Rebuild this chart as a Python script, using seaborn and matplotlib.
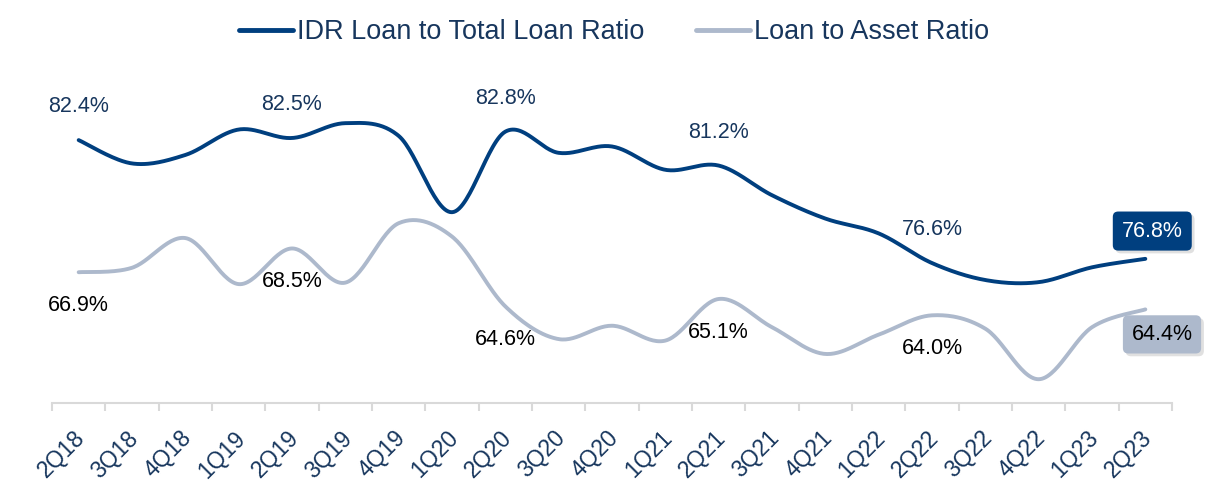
import numpy as np
import pandas as pd
import matplotlib
matplotlib.use("Agg")
import matplotlib.pyplot as plt
import matplotlib.patheffects as pe
from matplotlib.transforms import ScaledTranslation
import seaborn as sns

# Quarterly ratios (%)
quarters = ["2Q18", "3Q18", "4Q18", "1Q19", "2Q19", "3Q19", "4Q19", "1Q20", "2Q20",
            "3Q20", "4Q20", "1Q21", "2Q21", "3Q21", "4Q21", "1Q22", "2Q22", "3Q22",
            "4Q22", "1Q23", "2Q23"]
idr_loan_ratio = [82.4, 81.3, 81.7, 82.9, 82.5, 83.2, 82.6, 79.0, 82.8, 81.8, 82.1,
                  81.0, 81.2, 79.8, 78.7, 78.0, 76.6, 75.8, 75.7, 76.4, 76.8]
loan_asset_ratio = [66.9, 67.2, 69.2, 66.1, 68.5, 66.2, 70.2, 69.3, 64.6, 62.4, 63.3,
                    62.3, 65.1, 63.2, 61.4, 62.7, 64.0, 63.1, 59.7, 63.2, 64.4]
labelled = ["2Q18", "2Q19", "2Q20", "2Q21", "2Q22"]

NAVY = "#003f7f"
NAVY_TXT = "#17365d"
STEEL = "#adb9cc"
AXIS_GREY = "#d9d9d9"

sns.set_theme(style="white")
plt.rcParams["font.family"] = ["Liberation Sans", "DejaVu Sans"]


def smooth(y, n=30):
    """Cubic Bezier smoothing through every point (Catmull-Rom tangents)."""
    y = np.asarray(y, float)
    x = np.arange(len(y), dtype=float)
    px = np.concatenate([[x[0]], x, [x[-1]]])
    py = np.concatenate([[y[0]], y, [y[-1]]])
    xs, ys = [], []
    t = np.linspace(0, 1, n, endpoint=False)
    for i in range(len(y) - 1):
        p0 = np.array([x[i], y[i]])
        p3 = np.array([x[i + 1], y[i + 1]])
        c1 = p0 + (np.array([px[i + 2], py[i + 2]]) - np.array([px[i], py[i]])) / 6
        c2 = p3 - (np.array([px[i + 3], py[i + 3]]) - np.array([px[i + 1], py[i + 1]])) / 6
        b = ((1 - t) ** 3)[:, None] * p0 + (3 * (1 - t) ** 2 * t)[:, None] * c1 \
            + (3 * (1 - t) * t ** 2)[:, None] * c2 + (t ** 3)[:, None] * p3
        xs.append(b[:, 0])
        ys.append(b[:, 1])
    xs.append([x[-1]])
    ys.append([y[-1]])
    return np.concatenate(xs), np.concatenate(ys)


fig = plt.figure(figsize=(12.08, 4.82), dpi=100)
ax = fig.add_axes([52 / 1208, 1 - 403 / 482, 1120 / 1208, 318 / 482])
ax2 = ax.twinx()

sx, sy = smooth(idr_loan_ratio)
df_idr = pd.DataFrame({"q": sx, "v": sy})
sx2, sy2 = smooth(loan_asset_ratio)
df_la = pd.DataFrame({"q": sx2, "v": sy2})

sns.lineplot(data=df_idr, x="q", y="v", ax=ax, color=NAVY, lw=2.8,
             sort=False, estimator=None, label="IDR Loan to Total Loan Ratio", legend=False)
sns.lineplot(data=df_la, x="q", y="v", ax=ax2, color=STEEL, lw=2.8,
             sort=False, estimator=None, label="Loan to Asset Ratio", legend=False)

ax.set_xlim(-0.5, len(quarters) - 0.5)
ax.set_ylim(70, 85)
ax2.set_ylim(58.1, 79.5)

# Category axis: boundary tick marks, labels at centres
ax.set_xticks(np.arange(len(quarters) + 1) - 0.5)
ax.set_xticklabels([])
ax.set_xticks(np.arange(len(quarters)), minor=True)
ax.set_xticklabels(quarters, minor=True, rotation=45, ha="right", va="top",
                   rotation_mode="anchor", fontsize=16.5, color=NAVY_TXT)
ax.tick_params(axis="x", which="major", direction="out", length=6, width=1.5,
               color=AXIS_GREY, bottom=True)
ax.tick_params(axis="x", which="minor", length=0, pad=17)
shift = ScaledTranslation(-5 / 100, 0, fig.dpi_scale_trans)
for lab in ax.get_xticklabels(minor=True):
    lab.set_transform(lab.get_transform() + shift)
ax.set_yticks([])
ax2.set_yticks([])
ax.set_xlabel("")
ax.set_ylabel("")
ax2.set_ylabel("")
for a in (ax, ax2):
    for s in ("top", "right", "left", "bottom"):
        a.spines[s].set_visible(False)
ax.spines["bottom"].set_visible(True)
ax.spines["bottom"].set_color(AXIS_GREY)
ax.spines["bottom"].set_linewidth(1.5)

# Value labels
for q in labelled:
    i = quarters.index(q)
    ax.annotate(f"{idr_loan_ratio[i]:.1f}%", (i, idr_loan_ratio[i]), xytext=(0, 24),
                textcoords="offset points", ha="center", va="center",
                fontsize=15.5, color=NAVY_TXT)
    ax2.annotate(f"{loan_asset_ratio[i]:.1f}%", (i, loan_asset_ratio[i]), xytext=(0, -24),
                 textcoords="offset points", ha="center", va="center",
                 fontsize=15.5, color="black")

# Highlighted latest values
last = len(quarters) - 1
shadow = [pe.withSimplePatchShadow(offset=(2, -2), shadow_rgbFace="#9a9a9a", alpha=0.3)]
t1 = ax.annotate(f"{idr_loan_ratio[last]:.1f}%", (last, idr_loan_ratio[last]),
                 xytext=(5, 20), textcoords="offset points", ha="center", va="center",
                 fontsize=15.5, color="white",
                 bbox=dict(boxstyle="round,pad=0.42,rounding_size=0.25", fc=NAVY, ec="none"))
t1.get_bbox_patch().set_path_effects(shadow)
t2 = ax2.annotate(f"{loan_asset_ratio[last]:.1f}%", (last, loan_asset_ratio[last]),
                  xytext=(12, -18), textcoords="offset points", ha="center", va="center",
                  fontsize=15.5, color="black",
                  bbox=dict(boxstyle="round,pad=0.4,rounding_size=0.25", fc=STEEL, ec="none"))
t2.get_bbox_patch().set_path_effects(shadow)

# Legend
h1, l1 = ax.get_legend_handles_labels()
h2, l2 = ax2.get_legend_handles_labels()
leg = fig.legend(h1 + h2, l1 + l2, loc="center", bbox_to_anchor=(614 / 1208, 1 - 32 / 482),
                 ncol=2, frameon=False, fontsize=19.5, handlelength=2.0, handletextpad=0.15,
                 columnspacing=1.9)
for txt in leg.get_texts():
    txt.set_color(NAVY_TXT)
for line in leg.get_lines():
    line.set_linewidth(3.5)

fig.savefig("out.png", dpi=100)
